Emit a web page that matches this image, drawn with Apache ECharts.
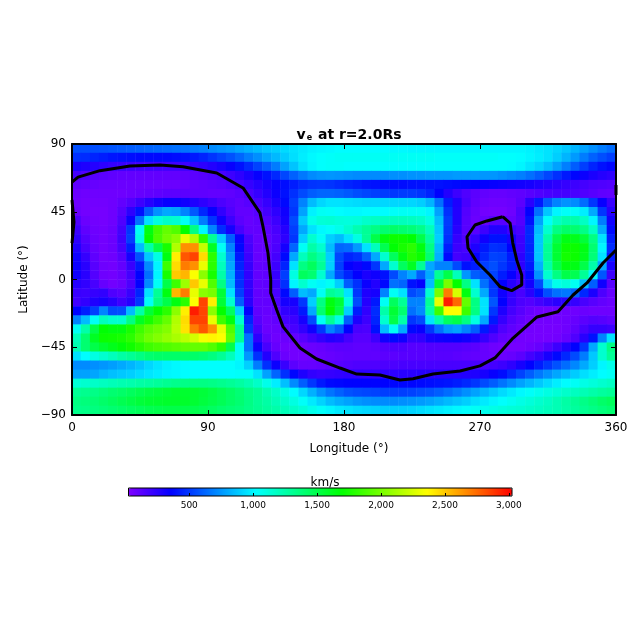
<!DOCTYPE html>
<html><head><meta charset="utf-8">
<style>html,body{margin:0;padding:0;background:#fff}#c{width:640px;height:640px}</style>
<script src="https://cdn.jsdelivr.net/npm/echarts@6/dist/echarts.min.js"></script>
</head><body><div id="c"></div>
<script>
const lonCenters = [3,9,15,21,27,33,39,45,51,57,63,69,75,81,87,93,99,105,111,117,123,129,135,141,147,153,159,165,171,177,183,189,195,201,207,213,219,225,231,237,243,249,255,261,267,273,279,285,291,297,303,309,315,321,327,333,339,345,351,357];
const latCenters = [87,81,75,69,63,57,51,45,39,33,27,21,15,9,3,-3,-9,-15,-21,-27,-33,-39,-45,-51,-57,-63,-69,-75,-81,-87];
const speedRows = [
[560,560,560,570,580,590,600,610,620,630,640,650,660,680,700,720,740,760,790,820,850,880,900,930,950,970,990,1000,1010,1020,1020,1020,1020,1020,1020,1010,1010,1000,1000,1000,1000,1000,1000,1000,1000,1000,1000,1000,1000,1000,990,970,950,920,880,830,780,730,680,640],
[480,470,450,430,410,400,390,380,380,380,380,390,400,420,450,490,530,570,620,680,730,790,840,890,940,980,1010,1030,1040,1050,1050,1050,1050,1050,1050,1050,1050,1050,1050,1050,1040,1040,1040,1040,1040,1040,1040,1030,1030,1020,1000,980,950,900,830,760,680,610,560,520],
[300,280,260,240,220,210,200,190,190,190,190,190,200,220,240,270,300,340,400,460,530,600,680,780,870,950,1000,1030,1040,1040,1030,1030,1030,1030,1030,1030,1030,1030,1030,1030,1030,1030,1030,1030,1030,1030,1030,1030,1020,1000,960,920,860,780,690,600,520,450,400,370],
[180,150,130,120,110,100,100,100,100,100,100,100,110,120,130,150,170,200,240,290,340,400,460,540,610,670,720,740,750,740,730,720,720,720,720,730,730,740,740,750,750,750,760,760,760,750,750,730,710,690,650,600,540,480,420,370,330,290,260,240],
[110,100,90,80,80,80,80,80,80,80,80,80,90,100,110,120,130,150,180,220,260,300,340,390,430,470,490,500,490,470,450,430,410,400,390,390,390,400,400,400,400,390,380,370,360,350,340,330,320,310,300,280,260,240,220,200,180,160,150,140],
[80,70,70,70,70,70,80,90,100,110,120,120,120,110,110,100,100,110,130,170,220,270,330,400,480,550,600,620,620,610,590,560,540,520,510,500,510,510,490,450,360,270,200,150,120,100,90,90,100,110,130,150,170,180,180,170,150,130,110,100],
[70,60,60,60,70,100,140,200,260,310,340,340,320,280,240,200,160,130,110,130,170,220,290,380,520,700,850,920,950,950,940,930,920,920,920,920,920,920,900,830,650,430,280,170,110,80,70,70,80,120,250,420,590,700,740,720,640,500,340,210],
[80,60,50,50,70,130,240,400,600,740,800,780,700,590,460,340,230,150,100,100,130,180,240,320,500,780,990,1050,1040,1020,1010,1010,1020,1020,1020,1040,1050,1050,1050,1000,780,480,270,140,90,60,50,50,70,150,350,650,880,1000,1040,1040,980,800,500,260],
[150,80,60,50,70,150,330,650,950,1110,1170,1150,1050,880,680,490,320,200,120,90,110,140,200,300,550,880,1080,1130,1140,1120,1110,1120,1160,1180,1190,1200,1200,1190,1170,1100,850,510,270,130,80,90,130,130,90,140,400,780,1040,1180,1240,1240,1180,1000,680,320],
[200,110,70,60,80,180,500,1050,1650,1860,1950,1900,1700,1350,1000,700,470,300,170,100,100,120,170,260,520,800,950,1010,1040,1080,1150,1230,1300,1350,1400,1420,1400,1380,1330,1200,880,500,250,130,130,200,270,270,200,170,460,850,1150,1350,1420,1400,1340,1180,800,380],
[240,140,80,60,80,190,520,1100,1700,1880,1980,2050,2300,2150,1800,1300,900,600,330,160,90,100,150,240,500,900,1150,1050,900,850,950,1100,1300,1500,1650,1720,1720,1680,1500,1280,900,480,220,150,220,320,400,400,300,200,460,880,1250,1500,1640,1620,1540,1350,950,430],
[280,170,90,60,80,170,430,850,1250,1500,1750,2150,2650,2650,2200,1600,1050,700,380,180,90,100,160,300,620,1050,1250,1150,850,620,640,760,950,1200,1480,1680,1750,1800,1650,1350,850,430,200,170,280,420,480,470,360,210,450,880,1300,1560,1720,1720,1640,1400,1000,470],
[320,220,110,60,70,130,300,570,880,1100,1650,2400,2800,2850,2450,1800,1150,760,420,200,90,100,180,380,800,1200,1350,1250,900,540,450,480,600,800,1150,1450,1650,1780,1720,1400,820,380,180,200,340,460,530,520,420,240,450,880,1300,1560,1740,1720,1620,1380,950,420],
[330,250,130,70,60,100,210,420,720,1000,1850,2450,2700,2650,2300,1800,1200,800,450,220,100,110,200,450,950,1350,1450,1300,900,520,350,320,380,500,800,1150,1450,1600,1300,800,700,700,550,400,430,520,560,500,430,240,420,820,1250,1500,1650,1640,1500,1250,800,300],
[320,250,140,70,60,90,180,360,650,1000,1750,2500,2550,2350,2050,1750,1250,820,470,230,100,110,220,520,1100,1450,1400,1150,800,550,450,350,290,320,400,550,700,800,600,800,1300,1500,1200,750,600,560,530,430,340,210,380,740,1150,1350,1500,1480,1300,1000,580,200],
[260,230,170,90,60,80,160,350,720,1050,1500,1850,2100,2500,2300,1900,1350,850,480,230,100,110,200,480,1000,1150,1050,1000,1050,900,600,480,330,270,380,650,620,400,350,850,1550,2000,1700,1350,950,650,500,350,260,190,310,550,900,1080,1120,1060,850,600,320,130],
[210,200,220,230,150,130,210,450,950,1300,1650,2550,2700,2300,2050,2000,1550,950,520,240,100,100,170,380,600,850,800,1050,1300,1250,950,500,280,300,700,1050,950,550,600,1150,2000,2700,2250,1650,1150,800,500,320,230,170,250,400,560,650,670,620,460,290,160,90],
[190,230,280,300,260,200,260,500,1050,1350,1500,1650,1800,2350,2850,2400,1550,1150,600,250,100,100,150,300,300,500,900,1350,1650,1550,1100,550,260,420,1050,1450,1300,700,700,1300,2300,2950,2750,1950,1350,950,580,350,220,160,140,180,220,250,250,220,170,130,100,80],
[360,430,520,700,550,560,850,1250,1550,1700,1800,2050,2400,2950,2850,2050,1700,1450,900,350,110,90,120,230,250,420,800,1400,1700,1500,900,430,230,470,1250,1550,1400,650,720,1250,1850,2350,2350,1850,1350,950,500,280,180,130,90,70,60,70,70,70,80,70,70,70],
[700,850,1050,1200,1150,1150,1350,1600,1750,1850,1950,2150,2450,2850,2850,2300,1850,1650,1150,450,130,80,100,180,200,300,550,1050,1300,1100,600,280,200,450,1150,1500,1250,500,550,950,1250,1450,1500,1350,1100,800,420,220,140,100,70,60,60,60,70,90,120,140,130,110],
[1050,1250,1500,1680,1650,1650,1750,1850,1930,1980,2030,2170,2430,2700,2800,2650,2300,1900,1300,500,170,80,80,130,170,230,320,500,700,600,350,170,160,400,850,1050,800,380,340,500,650,750,780,700,600,420,250,150,110,80,60,50,50,50,70,110,170,220,220,200],
[1200,1400,1600,1720,1730,1750,1800,1900,1980,2030,2080,2130,2180,2240,2330,2380,2350,1950,1300,650,240,110,70,80,100,130,180,230,270,250,180,130,130,200,320,380,320,220,230,300,320,330,340,320,280,220,150,100,80,60,50,50,50,60,90,150,250,400,700,950],
[1230,1400,1500,1570,1620,1670,1730,1790,1850,1880,1900,1920,1940,1950,1950,1900,1800,1500,1050,650,330,170,90,60,60,70,80,90,110,120,120,110,110,120,140,150,150,130,130,140,140,140,140,130,120,90,70,60,50,50,70,90,140,200,280,360,500,800,1150,1350],
[950,1020,1100,1150,1200,1260,1300,1350,1400,1420,1420,1420,1420,1420,1400,1360,1300,1200,1050,750,480,270,150,80,60,60,70,80,90,100,110,110,110,110,120,120,130,130,130,130,130,130,120,110,100,90,80,80,90,120,180,230,300,380,460,550,680,880,1150,1300],
[720,720,730,750,770,800,830,870,920,960,990,1010,1020,1030,1030,1030,1030,1030,1000,900,680,480,330,210,120,90,90,100,120,130,140,150,150,150,160,160,170,170,170,170,170,170,170,170,170,170,180,200,240,300,360,430,500,570,640,710,800,900,1000,1080],
[780,780,790,830,860,880,900,930,960,980,1000,1010,1020,1030,1030,1030,1030,1030,1040,1040,950,780,620,480,370,280,230,210,220,230,240,240,240,240,240,240,250,250,260,260,260,260,260,270,280,300,340,390,460,530,600,670,730,790,840,890,940,980,1020,1050],
[1130,1150,1170,1190,1210,1230,1240,1260,1270,1290,1310,1330,1340,1350,1350,1340,1320,1300,1270,1230,1170,1080,980,860,720,600,500,420,380,370,360,360,360,360,360,370,370,370,380,390,400,410,430,460,500,550,600,660,720,780,830,880,930,980,1020,1050,1090,1120,1150,1180],
[1300,1320,1340,1370,1400,1420,1450,1480,1510,1530,1550,1570,1570,1560,1540,1510,1470,1430,1390,1340,1300,1230,1170,1100,1020,920,820,730,660,610,570,550,540,530,520,520,520,530,550,570,600,640,680,730,780,830,880,930,970,1010,1040,1070,1100,1130,1160,1190,1220,1250,1280,1300],
[1350,1370,1390,1420,1450,1480,1510,1540,1560,1570,1580,1580,1580,1560,1530,1500,1470,1430,1400,1350,1300,1260,1210,1160,1100,1040,970,910,850,810,780,750,730,720,720,720,730,740,760,780,810,840,870,900,940,970,1000,1030,1060,1090,1120,1150,1180,1220,1260,1300,1340,1380,1420,1450],
[1330,1340,1360,1380,1400,1420,1440,1460,1480,1490,1500,1500,1500,1490,1470,1440,1410,1390,1370,1340,1310,1280,1250,1210,1170,1130,1080,1040,1000,970,950,930,920,910,900,900,900,910,930,950,970,990,1010,1030,1050,1070,1090,1110,1130,1140,1160,1180,1200,1220,1250,1280,1310,1340,1370,1400]
];
const neutralLine = [[0,64.7],[4,68],[18.5,72.3],[38.4,75.4],[58.2,76],[73.5,74.9],[95.8,70.7],[113.2,60.8],[124.4,44.2],[126.4,35.1],[129.7,17.6],[131.5,-0.3],[131.5,-9],[135.5,-20.3],[139.6,-31.3],[150.9,-45.5],[161.9,-52.8],[177.4,-58.8],[188.4,-62.8],[203.8,-63.4],[217,-66.8],[225.7,-65.9],[238.9,-62.8],[256.8,-60.8],[270,-57.4],[279.9,-52.1],[291.9,-38.9],[303.1,-28.9],[307.7,-24.9],[321.6,-21.4],[331.6,-10.3],[340.8,-2.3],[351.4,11],[360,19.6]];
const closedLoop = [[285,41.7],[289.9,37.5],[291.7,24.2],[294.3,13],[297.6,3],[297.6,-3.6],[291,-7.4],[283.3,-4.8],[276.6,3],[267.8,11.8],[262.1,20.9],[261.4,28.4],[266.7,36.2],[274.5,38.9],[285,41.7]];
const leftArc = [[0,52.8],[1.3,38.2],[0,24.2]];
const rightArc = [[360,62.8],[360,56.2]];
const lonTicks = [0,90,180,270,360];
const latTicks = [-90,-45,0,45,90];
const barTicks = [500,1000,1500,2000,2500,3000];
const rainbow = ['#7f00ff','#0000ff','#0080ff','#00ffff','#00ff80','#00ff00','#80ff00','#ffff00','#ff8000','#ff0000'];

const FONT = 'DejaVu Sans';
const plot = {left:72, top:144, width:544, height:271};
const heat = [];
speedRows.forEach((row,j)=>row.forEach((v,i)=>heat.push([i,j,v])));
const lineStyle = {color:'#000',width:3};
const mkLine = d => ({type:'line',xAxisIndex:1,yAxisIndex:1,data:d,showSymbol:false,symbol:'none',smooth:false,z:5,lineStyle,silent:true,clip:true});
const valX = (pos,labels) => ({type:'value',gridIndex:1,position:pos,min:0,max:360,interval:90,z:6,splitLine:{show:false},
  axisLine:{show:true,onZero:false,lineStyle:{color:'#000',width:2}},
  axisTick:{show:true,inside:true,length:5,lineStyle:{color:'#000',width:1}},
  axisLabel:{show:labels,color:'#000',fontFamily:FONT,fontSize:12,margin:7}});
const valY = (pos,labels) => ({type:'value',gridIndex:1,position:pos,min:-90,max:90,interval:45,z:6,splitLine:{show:false},
  axisLine:{show:true,onZero:false,lineStyle:{color:'#000',width:2}},
  axisTick:{show:true,inside:true,length:5,lineStyle:{color:'#000',width:1}},
  axisLabel:{show:labels,color:'#000',fontFamily:FONT,fontSize:12,margin:6,formatter:v=>String(v).replace('-','\u2212')}});
const chart = echarts.init(document.getElementById('c'),null,{renderer:'canvas'});
chart.setOption({
  animation:false,
  backgroundColor:'#fff',
  title:[
    {text:'{a|v}{b|e}{a| at r=2.0Rs}',left:344,top:123,textAlign:'center',textStyle:{rich:{a:{fontFamily:FONT,fontSize:14,color:'#000'},b:{fontFamily:FONT,fontSize:8,color:'#000',verticalAlign:'bottom',padding:[6,1,0,1]}}}},
    {text:'Longitude (\u00b0)',left:344,top:438,textAlign:'center',textStyle:{fontFamily:FONT,fontSize:12,fontWeight:'normal',color:'#000'}},
    {text:'km/s',left:320,top:472,textAlign:'center',textStyle:{fontFamily:FONT,fontSize:12,fontWeight:'normal',color:'#000'}}
  ],
  grid:[
    {...plot},
    {...plot},
    {left:128.5,top:488,width:383.5,height:8,show:true,z:10,backgroundColor:'transparent',borderColor:'#000',borderWidth:1}
  ],
  xAxis:[
    {type:'category',gridIndex:0,data:lonCenters,show:false},
    valX('bottom',true),
    valX('top',false),
    {type:'value',gridIndex:2,min:25,max:3024,z:11,splitLine:{show:false},axisLine:{show:false},
     axisTick:{show:true,inside:true,length:3,customValues:barTicks,lineStyle:{color:'#000'}},
     axisLabel:{show:true,customValues:barTicks,color:'#000',fontFamily:FONT,fontSize:9,margin:5}}
  ],
  yAxis:[
    {type:'category',gridIndex:0,data:latCenters,inverse:true,show:false},
    {...valY('left',true),name:'Latitude (\u00b0)',nameLocation:'middle',nameGap:41,nameTextStyle:{fontFamily:FONT,fontSize:12,color:'#000'}},
    valY('right',false),
    {type:'value',gridIndex:2,min:0,max:1,show:false}
  ],
  visualMap:[{type:'continuous',seriesIndex:0,dimension:2,min:25,max:3024,calculable:false,realtime:false,hoverLink:false,orient:'horizontal',
    left:128.5,top:488,itemWidth:8,itemHeight:383.5,padding:0,text:null,showLabel:false,inRange:{color:rainbow},textStyle:{fontSize:0}}],
  series:[
    {type:'heatmap',xAxisIndex:0,yAxisIndex:0,data:heat,silent:true,z:2,progressive:0,itemStyle:{borderWidth:0}},
    mkLine(neutralLine),mkLine(closedLoop),mkLine(leftArc),mkLine(rightArc)
  ]
});
</script></body></html>
